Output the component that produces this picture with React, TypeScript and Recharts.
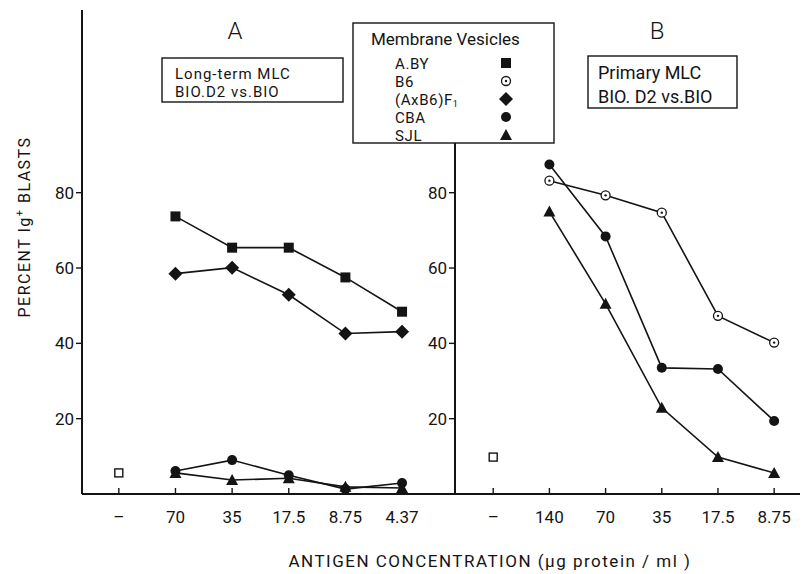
import { LineChart, Line, XAxis, YAxis } from "recharts";

const leftCategories = ["–", "70", "35", "17.5", "8.75", "4.37"];
const rightCategories = ["–", "140", "70", "35", "17.5", "8.75"];
const yTicks = [20, 40, 60, 80];

// panel A: long-term MLC, first slot is the "–" (no antigen) column
const leftABY = [null, 73.7, 65.4, 65.4, 57.5, 48.4];
const leftF1 = [null, 58.5, 60.1, 52.9, 42.6, 43.1];
const leftCBA = [null, 6.1, 9.0, 5.0, 1.3, 2.9];
const leftSJL = [null, 5.6, 3.7, 4.2, 1.9, 1.6];
const leftControl = [5.6, null, null, null, null, null];

// panel B: primary MLC
const rightB6 = [null, 83.2, 79.3, 74.7, 47.3, 40.2];
const rightCBA = [null, 87.5, 68.4, 33.5, 33.2, 19.4];
const rightSJL = [null, 75.0, 50.5, 22.9, 9.8, 5.6];
const rightControl = [9.8, null, null, null, null, null];

const INK = "#141414";
const FONT = "Roboto, 'DejaVu Sans', sans-serif";

const leftData = leftCategories.map((_, i) => ({
  x: i,
  aby: leftABY[i],
  f1: leftF1[i],
  cba: leftCBA[i],
  sjl: leftSJL[i],
  ctrl: leftControl[i],
}));

const rightData = rightCategories.map((_, i) => ({
  x: i,
  b6: rightB6[i],
  cba: rightCBA[i],
  sjl: rightSJL[i],
  ctrl: rightControl[i],
}));

type Pt = { cx: number; cy: number };

const Square = ({ cx, cy }: Pt) => <rect x={cx - 5} y={cy - 5} width={10} height={10} fill={INK} />;
const OpenSquare = ({ cx, cy }: Pt) => (
  <rect x={cx - 4} y={cy - 4} width={8} height={8} fill="#fff" stroke={INK} strokeWidth={1.4} />
);
const Diamond = ({ cx, cy }: Pt) => (
  <path d={`M${cx},${cy - 7}L${cx + 7},${cy}L${cx},${cy + 7}L${cx - 7},${cy}Z`} fill={INK} />
);
const Dot = ({ cx, cy }: Pt) => <circle cx={cx} cy={cy} r={5} fill={INK} />;
const DottedCircle = ({ cx, cy }: Pt) => (
  <g>
    <circle cx={cx} cy={cy} r={4.5} fill="#fff" stroke={INK} strokeWidth={1.3} />
    <circle cx={cx} cy={cy} r={1.2} fill={INK} />
  </g>
);
const Triangle = ({ cx, cy }: Pt) => (
  <path d={`M${cx},${cy - 6}L${cx + 6},${cy + 5}L${cx - 6},${cy + 5}Z`} fill={INK} />
);

function marker(Shape: (p: Pt) => JSX.Element, name: string) {
  return (p: any) => {
    if (p.cy == null || p.value == null) return <g key={`${name}-${p.index}`} />;
    return (
      <g key={`${name}-${p.index}`}>
        <Shape cx={p.cx} cy={p.cy} />
      </g>
    );
  };
}

function makeXTick(labels: string[]) {
  return (props: any) => {
    const { x, y, payload } = props;
    return (
      <g>
        <line x1={x} x2={x} y1={y} y2={y - 6} stroke={INK} strokeWidth={1.4} />
        <text x={x} y={y + 29} textAnchor="middle" fontSize={17} fill={INK} fontFamily={FONT}>
          {labels[payload.value]}
        </text>
      </g>
    );
  };
}

const yTickStyle = { fontSize: 17, fill: INK, fontFamily: FONT };

const legendRows = [
  { label: "A.BY", y: 69, Shape: Square },
  { label: "B6", y: 87, Shape: DottedCircle },
  { label: "(AxB6)F", sub: "1", y: 105, Shape: Diamond },
  { label: "CBA", y: 123, Shape: Dot },
  { label: "SJL", y: 141, Shape: Triangle },
];

function LegendBox() {
  return (
    <g fontFamily={FONT} fill={INK}>
      <rect x={353} y={23} width={201} height={120} fill="#fff" stroke={INK} strokeWidth={1.4} />
      <text x={371} y={45} fontSize={17}>Membrane Vesicles</text>
      {legendRows.map((r) => (
        <g key={r.label}>
          <text x={395} y={r.y} fontSize={15} letterSpacing={0.6}>
            {r.label}
            {r.sub && (
              <tspan fontSize={9} dy={2}>
                {r.sub}
              </tspan>
            )}
          </text>
          <r.Shape cx={506} cy={r.y - 6} />
        </g>
      ))}
    </g>
  );
}

function Annotations() {
  return (
    <svg width={804} height={574} style={{ position: "absolute", left: 0, top: 0 }}>
      <g fontFamily={FONT} fill={INK}>
        <text x={235} y={39} fontSize={24} fontWeight={300} textAnchor="middle">A</text>
        <text x={657} y={39} fontSize={24} fontWeight={300} textAnchor="middle">B</text>

        <rect x={162} y={58} width={181} height={44} fill="#fff" stroke={INK} strokeWidth={1.4} />
        <text x={175} y={79} fontSize={15} letterSpacing={1}>Long-term MLC</text>
        <text x={175} y={97} fontSize={15} letterSpacing={1}>BIO.D2 vs.BIO</text>

        <rect x={588} y={56} width={149} height={52} fill="#fff" stroke={INK} strokeWidth={1.4} />
        <text x={598} y={79} fontSize={18}>Primary MLC</text>
        <text x={598} y={103} fontSize={18}>BIO. D2 vs.BIO</text>

        <text
          transform="translate(30,227) rotate(-90)"
          textAnchor="middle"
          fontSize={16}
          letterSpacing={1.5}
        >
          PERCENT Ig
          <tspan fontSize={11} dy={-7}>+</tspan>
          <tspan dy={7}> BLASTS</tspan>
        </text>

        <text x={490} y={567} textAnchor="middle" fontSize={17} letterSpacing={1.5}>
          ANTIGEN  CONCENTRATION (µg protein / ml )
        </text>
      </g>
      <LegendBox />
    </svg>
  );
}

export default function App() {
  return (
    <div style={{ position: "absolute", left: 0, top: 0, width: 804, height: 574, background: "#fff" }}>
      <div style={{ position: "absolute", left: 0, top: 0 }}>
        <LineChart width={804} height={574} data={leftData} margin={{ top: 10, left: 22, right: 347, bottom: 50 }}>
          <XAxis
            dataKey="x"
            type="number"
            domain={[-0.65, 5.97]}
            ticks={[0, 1, 2, 3, 4, 5]}
            allowDataOverflow
            height={30}
            tickSize={0}
            tickMargin={0}
            tick={makeXTick(leftCategories)}
            axisLine={{ stroke: INK, strokeWidth: 2 }}
          />
          <YAxis
            type="number"
            domain={[0, 128.5]}
            ticks={yTicks}
            allowDataOverflow
            width={60}
            tick={yTickStyle}
            tickLine={{ stroke: INK, strokeWidth: 1.4 }}
            axisLine={{ stroke: INK, strokeWidth: 2 }}
          />
          <Line dataKey="aby" stroke={INK} strokeWidth={1.6} dot={marker(Square, "aby")} isAnimationActive={false} />
          <Line dataKey="f1" stroke={INK} strokeWidth={1.6} dot={marker(Diamond, "f1")} isAnimationActive={false} />
          <Line dataKey="cba" stroke={INK} strokeWidth={1.6} dot={marker(Dot, "lcba")} isAnimationActive={false} />
          <Line dataKey="sjl" stroke={INK} strokeWidth={1.6} dot={marker(Triangle, "lsjl")} isAnimationActive={false} />
          <Line dataKey="ctrl" stroke="none" dot={marker(OpenSquare, "lctrl")} isAnimationActive={false} />
        </LineChart>
      </div>
      <div style={{ position: "absolute", left: 0, top: 0 }}>
        <LineChart width={804} height={574} data={rightData} margin={{ top: 143, left: 395, right: 4, bottom: 50 }}>
          <XAxis
            dataKey="x"
            type="number"
            domain={[-0.68, 5.46]}
            ticks={[0, 1, 2, 3, 4, 5]}
            allowDataOverflow
            height={30}
            tickSize={0}
            tickMargin={0}
            tick={makeXTick(rightCategories)}
            axisLine={{ stroke: INK, strokeWidth: 2 }}
          />
          <YAxis
            type="number"
            domain={[0, 93.2]}
            ticks={yTicks}
            allowDataOverflow
            width={60}
            tick={yTickStyle}
            tickLine={{ stroke: INK, strokeWidth: 1.4 }}
            axisLine={{ stroke: INK, strokeWidth: 2 }}
          />
          <Line dataKey="b6" stroke={INK} strokeWidth={1.6} dot={marker(DottedCircle, "b6")} isAnimationActive={false} />
          <Line dataKey="cba" stroke={INK} strokeWidth={1.6} dot={marker(Dot, "rcba")} isAnimationActive={false} />
          <Line dataKey="sjl" stroke={INK} strokeWidth={1.6} dot={marker(Triangle, "rsjl")} isAnimationActive={false} />
          <Line dataKey="ctrl" stroke="none" dot={marker(OpenSquare, "rctrl")} isAnimationActive={false} />
        </LineChart>
      </div>
      <Annotations />
    </div>
  );
}
